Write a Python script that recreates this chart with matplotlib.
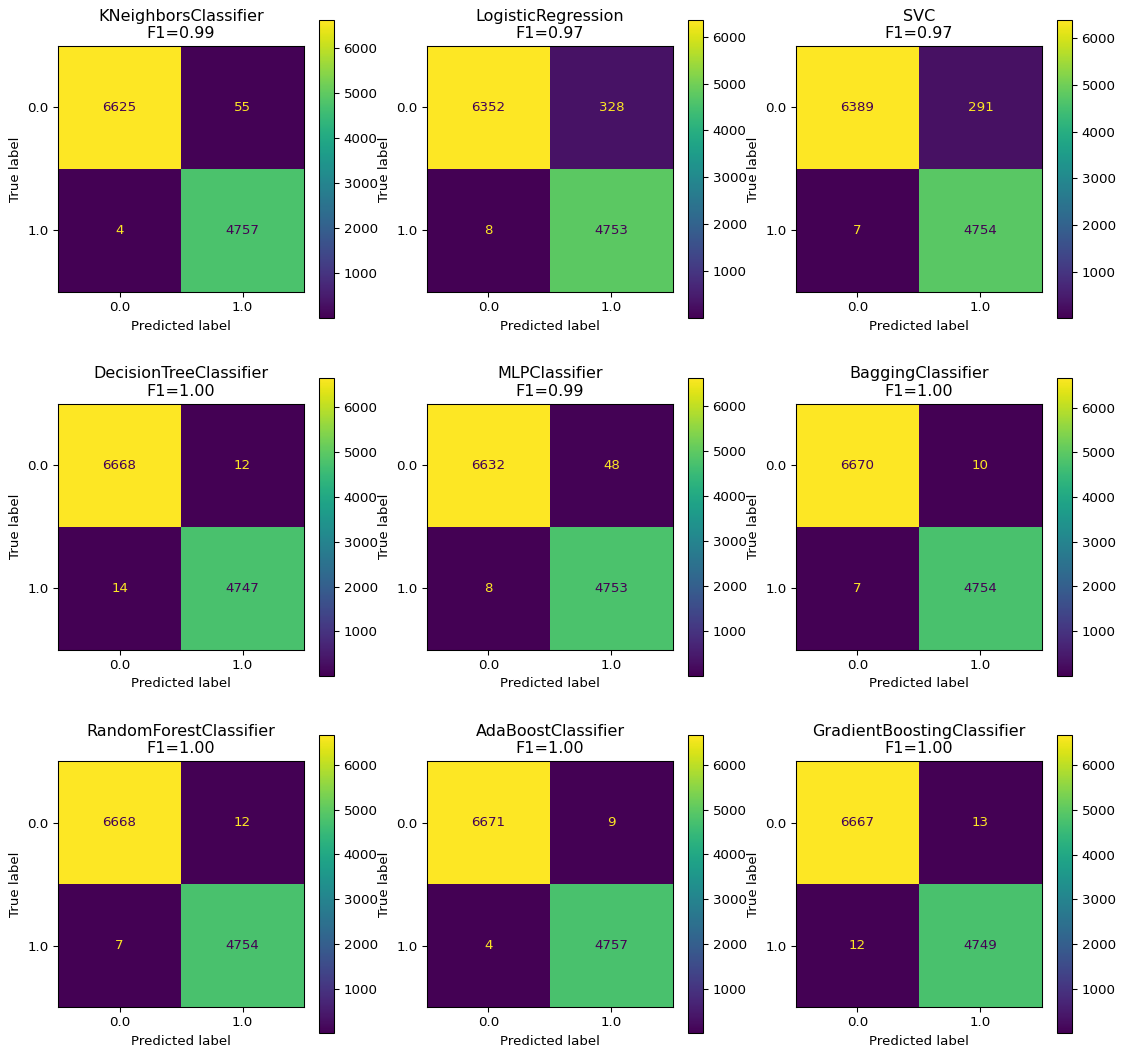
#!/usr/bin/env python3

import matplotlib
matplotlib.use("Agg")
import matplotlib.pyplot as plt
import numpy as np

models = ["KNeighborsClassifier", "LogisticRegression", "SVC",
          "DecisionTreeClassifier", "MLPClassifier", "BaggingClassifier",
          "RandomForestClassifier", "AdaBoostClassifier",
          "GradientBoostingClassifier"]
f1_scores = [0.99, 0.97, 0.97, 1.00, 0.99, 1.00, 1.00, 1.00, 1.00]

# confusion matrices: [[TN, FP], [FN, TP]]
tn = [6625, 6352, 6389, 6668, 6632, 6670, 6668, 6671, 6667]
fp = [55, 328, 291, 12, 48, 10, 12, 9, 13]
fn = [4, 8, 7, 14, 8, 7, 7, 4, 12]
tp = [4757, 4753, 4754, 4747, 4753, 4754, 4754, 4757, 4749]

class_labels = ["0.0", "1.0"]


def plotCM(ax, cm, title):
  cmap = plt.get_cmap("viridis")
  im = ax.imshow(cm, interpolation="nearest", cmap=cmap)
  thresh = (cm.max() + cm.min()) / 2.0
  for i in range(cm.shape[0]):
    for j in range(cm.shape[1]):
      color = cmap(1.0) if cm[i, j] < thresh else cmap(0)
      ax.text(j, i, format(cm[i, j], "d"), ha="center", va="center",
              color=color)
  ax.figure.colorbar(im, ax=ax)
  ax.set_xticks(np.arange(len(class_labels)))
  ax.set_yticks(np.arange(len(class_labels)))
  ax.set_xticklabels(class_labels)
  ax.set_yticklabels(class_labels)
  ax.set_xlabel("Predicted label")
  ax.set_ylabel("True label")
  ax.set_ylim((len(class_labels) - 0.5, -0.5))
  ax.set_title(title)


dpi = 96
fig, axes = plt.subplots(3, 3, figsize=(1122 / dpi, 1059 / dpi), dpi=dpi)
fig.subplots_adjust(left=0.0517, right=0.9835, top=0.9811, bottom=0.0245,
                    wspace=0.2, hspace=0.2)

for k, ax in enumerate(axes.flat):
  cm = np.array([[tn[k], fp[k]], [fn[k], tp[k]]])
  plotCM(ax, cm, "%s\nF1=%.2f" % (models[k], f1_scores[k]))

fig.savefig("out.png", dpi=dpi)
